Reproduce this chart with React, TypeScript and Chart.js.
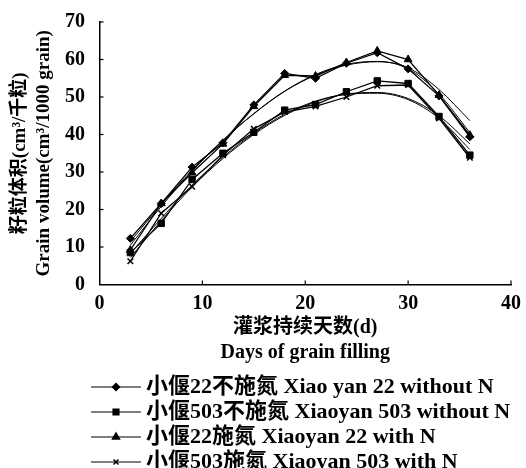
import React, { useEffect, useRef } from 'react';
import { Chart, registerables } from 'chart.js';
import { drawPoint } from 'chart.js/helpers';

Chart.register(...registerables);

// ---- data ----
const days = [3, 6, 9, 12, 15, 18, 21, 24, 27, 30, 33, 36];

const xy22NoN = [12.3, 21.6, 31.3, 37.8, 47.9, 56.3, 55.0, 59.0, 61.8, 57.5, 50.3, 39.4];
const xy503NoN = [8.5, 16.3, 28.0, 35.0, 40.6, 46.5, 48.0, 51.4, 54.3, 53.6, 44.8, 34.5];
const xy22N = [9.2, 21.6, 29.8, 37.5, 47.5, 55.8, 55.6, 59.2, 62.3, 60.0, 50.5, 39.8];
const xy503N = [6.2, 19.0, 26.1, 34.5, 41.5, 46.0, 47.5, 50.0, 53.0, 53.2, 44.3, 33.8];

// fitted trend curves
const fit22NoN = [11.5, 21.3, 30.5, 38.5, 45.5, 51.5, 55.8, 58.5, 59.4, 57.8, 52.0, 43.7];
const fit22N = [10.5, 20.8, 30.2, 38.4, 45.6, 51.6, 56.0, 58.7, 59.5, 57.5, 50.8, 40.5];
const fit503NoN = [8.3, 17.6, 26.5, 34.0, 40.3, 45.4, 48.9, 50.8, 51.2, 49.6, 45.0, 37.5];
const fit503N = [7.2, 17.0, 26.0, 33.6, 40.0, 45.1, 48.7, 50.7, 51.0, 49.3, 44.3, 36.0];

const seriesLabels = [
  '小偃22不施氮 Xiao yan 22 without N',
  '小偃503不施氮 Xiaoyan 503 without N',
  '小偃22施氮 Xiaoyan 22 with N',
  '小偃503施氮 Xiaoyan 503 with N',
];
const seriesValues = [xy22NoN, xy503NoN, xy22N, xy503N];
const fitValues = [fit22NoN, fit503NoN, fit22N, fit503N];

const xTickMin = 0;
const xTickMax = 40;
const xTickStep = 10;
const yTickMin = 0;
const yTickMax = 70;
const yTickStep = 10;

const yTitle = ['籽粒体积(cm³/千粒)', 'Grain volume(cm³/1000 grain)'];
const xTitle = ['灌浆持续天数(d)', 'Days of grain filling'];

// ---- styles ----
const SERIF = "'Liberation Serif', 'Noto Sans CJK SC', serif";
const markerStyles = [
  { pointStyle: 'rectRot', radius: 4 },
  { pointStyle: 'rect', radius: 4.5 },
  { pointStyle: 'triangle', radius: 4.5 },
  { pointStyle: 'crossRot', radius: 4 },
];

const innerTicks = {
  id: 'innerTicks',
  afterDatasetsDraw(chart: any) {
    const { ctx, chartArea, scales } = chart;
    ctx.save();
    ctx.strokeStyle = '#000';
    ctx.lineWidth = 1.2;
    scales.y.ticks.forEach((t: any) => {
      if (t.value === yTickMin) return;
      const y = scales.y.getPixelForValue(t.value);
      ctx.beginPath();
      ctx.moveTo(chartArea.left, y);
      ctx.lineTo(chartArea.left + 4, y);
      ctx.stroke();
    });
    scales.x.ticks.forEach((t: any) => {
      if (t.value === xTickMin) return;
      const x = scales.x.getPixelForValue(t.value);
      ctx.beginPath();
      ctx.moveTo(x, chartArea.bottom);
      ctx.lineTo(x, chartArea.bottom - 4);
      ctx.stroke();
    });
    ctx.restore();
  },
};

const customLegend = {
  id: 'customLegend',
  afterDraw(chart: any) {
    const { ctx } = chart;
    ctx.save();
    const top = 387;
    const rowGap = 25;
    const lineX0 = 91;
    const lineX1 = 141;
    const textX = 146;
    seriesLabels.forEach((label, i) => {
      const y = top + i * rowGap;
      ctx.strokeStyle = '#000';
      ctx.fillStyle = '#000';
      ctx.lineWidth = 1.2;
      ctx.beginPath();
      ctx.moveTo(lineX0, y);
      ctx.lineTo(lineX1, y);
      ctx.stroke();
      const ms = markerStyles[i];
      ctx.lineWidth = 1.5;
      drawPoint(ctx, { pointStyle: ms.pointStyle as any, radius: ms.radius - 0.5, rotation: 0, borderWidth: 1.5 } as any, (lineX0 + lineX1) / 2, y);
      ctx.font = `bold 22px ${SERIF}`;
      ctx.textBaseline = 'middle';
      ctx.textAlign = 'left';
      ctx.fillText(label, textX, y);
    });
    ctx.restore();
  },
};

export default function App() {
  const ref = useRef<HTMLCanvasElement | null>(null);

  useEffect(() => {
    if (!ref.current) return;
    const dataSets: any[] = [];
    fitValues.forEach((vals) => {
      dataSets.push({
        data: days.map((d, j) => ({ x: d, y: vals[j] })),
        showLine: true,
        borderColor: '#000',
        borderWidth: 1,
        pointRadius: 0,
        tension: 0.4,
        cubicInterpolationMode: 'monotone',
        fill: false,
      });
    });
    seriesValues.forEach((vals, i) => {
      dataSets.push({
        label: seriesLabels[i],
        data: days.map((d, j) => ({ x: d, y: vals[j] })),
        showLine: true,
        borderColor: '#000',
        backgroundColor: '#000',
        borderWidth: 1.3,
        pointStyle: markerStyles[i].pointStyle,
        pointRadius: markerStyles[i].radius,
        pointBorderWidth: markerStyles[i].pointStyle === 'crossRot' ? 1.5 : 1,
        pointBackgroundColor: '#000',
        pointBorderColor: '#000',
        tension: 0,
        fill: false,
      });
    });

    const chart = new Chart(ref.current, {
      type: 'scatter',
      data: { datasets: dataSets },
      options: {
        animation: false,
        responsive: true,
        maintainAspectRatio: false,
        layout: { padding: { left: 8, right: 5, top: 6, bottom: 103 } },
        plugins: {
          legend: { display: false },
          tooltip: { enabled: false },
        },
        scales: {
          x: {
            type: 'linear',
            min: xTickMin,
            max: xTickMax,
            ticks: {
              stepSize: xTickStep,
              color: '#000',
              padding: 5,
              font: { family: SERIF, size: 20, weight: 'bold', lineHeight: 1.45 },
            },
            grid: { display: false, drawTicks: false },
            border: { display: true, color: '#000', width: 1.5 },
            title: {
              display: true,
              text: xTitle,
              color: '#000',
              font: { family: SERIF, size: 20, weight: 'bold', lineHeight: 1.25 },
              padding: { top: -8.5, bottom: 0 },
            },
          },
          y: {
            type: 'linear',
            min: yTickMin,
            max: yTickMax,
            ticks: {
              stepSize: yTickStep,
              color: '#000',
              padding: 14.5,
              font: { family: SERIF, size: 20, weight: 'bold', lineHeight: 0.75 },
            },
            grid: { display: false, drawTicks: false },
            border: { display: true, color: '#000', width: 1.5 },
            title: {
              display: true,
              text: yTitle,
              color: '#000',
              font: { family: SERIF, size: 19, weight: 'bold', lineHeight: 1.25 },
              padding: { top: 0, bottom: -5 },
            },
          },
        },
      } as any,
      plugins: [innerTicks, customLegend],
    });
    return () => chart.destroy();
  }, []);

  return (
    <div style={{ position: 'absolute', left: 0, top: 0, width: 526, height: 468, background: '#fff' }}>
      <canvas ref={ref} />
    </div>
  );
}
